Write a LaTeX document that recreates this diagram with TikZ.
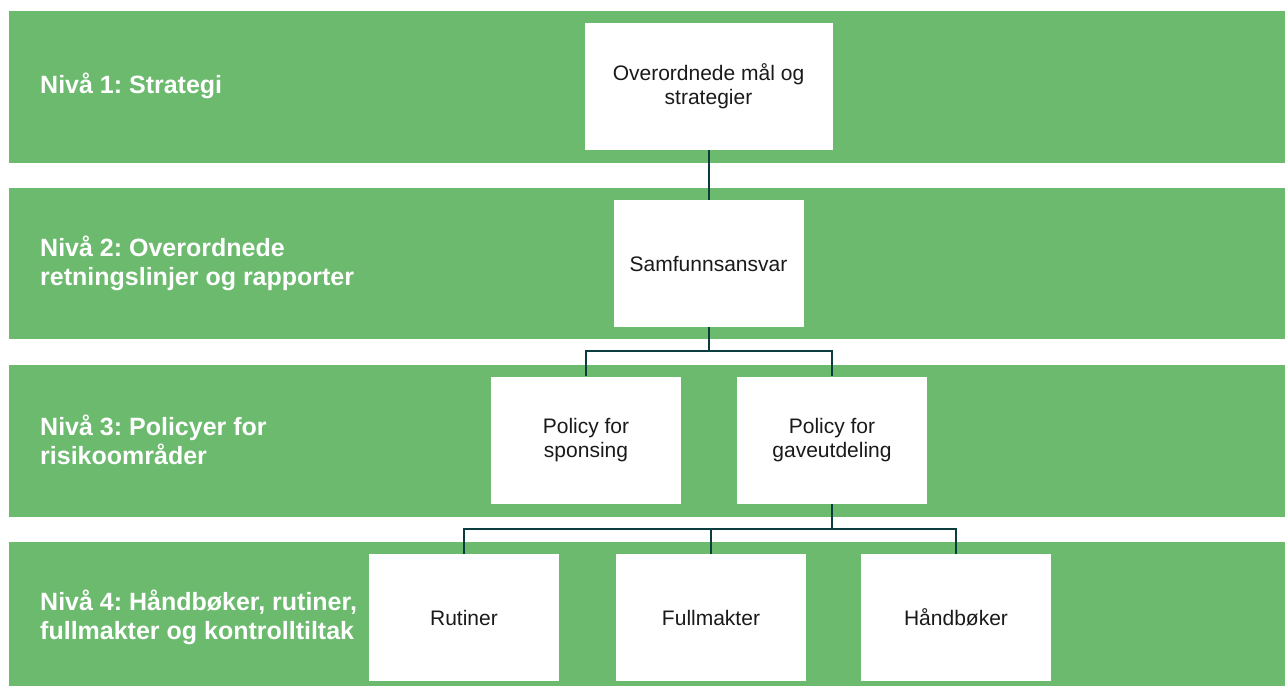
\documentclass[tikz,border=0pt]{standalone}
\usepackage{fontspec}
\setmainfont{Liberation Sans}
\frenchspacing
\definecolor{bandgreen}{HTML}{6BBA6E}
\definecolor{linecol}{HTML}{0B3C3E}
\definecolor{txtcol}{HTML}{1A1A1A}
\begin{document}
\begin{tikzpicture}[x=1pt,y=-1pt,
  band/.style={fill=bandgreen,draw=none},
  lvl/.style={anchor=west,inner sep=0pt,text=white,align=left,font=\fontsize{25}{29}\selectfont\bfseries},
  box/.style={fill=white,draw=none,inner sep=0pt,minimum width=190pt,minimum height=127pt,align=center,text=txtcol,font=\fontsize{21}{24}\selectfont},
  conn/.style={draw=linecol,line width=2pt}]
\useasboundingbox (0,0) rectangle (1285,686);
% bands
\path[band] (9,11) rectangle (1285,163);
\path[band] (9,188) rectangle (1285,339);
\path[band] (9,365) rectangle (1285,517);
\path[band] (9,542) rectangle (1285,686);
% level labels
\node[lvl] (l1) at (40,86) {Nivå 1: Strategi};
\node[lvl] (l2) at (40,263) {Nivå 2: Overordnede\\retningslinjer og rapporter};
\node[lvl] (l3) at (40,440) {Nivå 3: Policyer for\\risikoområder};
\node[lvl] (l4) at (40,617) {Nivå 4: Håndbøker, rutiner,\\fullmakter og kontrolltiltak};
% boxes
\node[box,minimum width=248pt] (b1) at (708.5,86.5) {Overordnede mål og\\strategier};
\node[box] (b2) at (708.5,263.5) {Samfunnsansvar};
\node[box] (b3a) at (586,440) {Policy for\\sponsing};
\node[box] (b3b) at (832,440) {Policy for\\gaveutdeling};
\node[box] (b4a) at (464,617.5) {Rutiner};
\node[box] (b4b) at (711,617.5) {Fullmakter};
\node[box] (b4c) at (956,617.5) {Håndbøker};
% junctions
\coordinate (j1) at (708.5,351);
\coordinate (j2) at (832,529);
% connectors
\draw[conn] (b1.south) -- (b2.north);
\draw[conn] (b2.south) -- (j1);
\draw[conn] (b3a.north) |- (j1) -| (b3b.north);
\draw[conn] (b3b.south) -- (j2);
\draw[conn] (b4a.north) |- (j2) -| (b4c.north);
\draw[conn] (b4b.north) -- (b4b.north |- j2);
\end{tikzpicture}
\end{document}
